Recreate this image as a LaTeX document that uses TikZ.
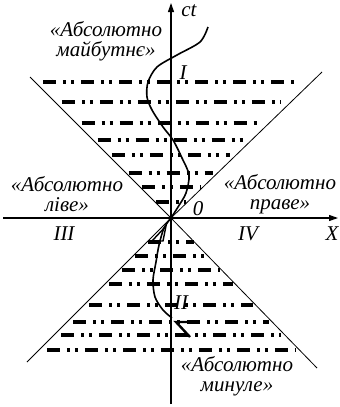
\documentclass[tikz,border=0pt]{standalone}
\usepackage{fontspec}
\setmainfont{Liberation Serif}
\usetikzlibrary{arrows.meta,positioning}

\begin{document}
\begin{tikzpicture}[
    x=1pt, y=-1pt,
    axis/.style={line width=1.1pt, -{Triangle[length=9pt,width=6pt]}},
    cone/.style={line width=0.8pt},
    hatch/.style={line width=3.2pt,
                  dash pattern=on 13pt off 7pt on 3pt off 5pt on 3pt off 7pt},
    lbl/.style={font=\fontsize{21}{20}\selectfont\itshape, align=center,
                inner sep=0pt},
    world/.style={line width=1.6pt}
  ]
    \useasboundingbox (0,0) rectangle (340,407);
    \coordinate (O) at (171,218);

    % Hatching inside the cone
    \foreach \y in {82,102,123,140,155,173,187,202,242,256,270,284,305,322,335,350}
      \draw[hatch] ({171-0.94*abs(218-\y)},\y) -- ({171+0.94*abs(218-\y)},\y);

    % Light cone
    \coordinate (ul) at (30,77);
    \coordinate (ur) at (322,72);
    \coordinate (ll) at (27,362);
    \coordinate (lr) at (317,368);
    \draw[cone] (ul) -- (O) -- (lr);
    \draw[cone] (ur) -- (O) -- (ll);

    % Axes
    \coordinate (xl) at (3,218);
    \coordinate (xr) at (338,218);
    \coordinate (tb) at (171,404);
    \coordinate (tt) at (171,3);
    \draw[axis] (xl) -- (xr);
    \draw[axis] (tb) -- (tt);

    % World line
    \draw[world] plot[smooth] coordinates {(208,27) (200,42) (177,55) (157,67)
      (148,82) (147,97) (152,110) (163,127) (173,140) (182,158) (189,175)
      (186,193) (178,207) (171,218)};
    \draw[world] plot[smooth] coordinates {(171,218) (164,228) (159,245)
      (156,262) (153,280) (155,297) (163,310) (172,318)};
    \draw[line width=2.4pt] (187,322) -- (176,322) -- (190,337);
    \draw[line width=1.4pt] (152,241) -- (166,226) -- (163,241) -- cycle;

    % Labels
    \node[lbl] (ct) at (189,11) {ct};
    \node[lbl] (xa) at (332,234) {X};
    \node[lbl] (zero) at (198,209) {0};
    \node[lbl] (r1) at (183,73) {I};
    \node[lbl] (r2) at (181,303) {II};
    \node[lbl] (r3) at (64,234) {III};
    \node[lbl] (r4) at (248,234) {IV};
    \node[lbl] (fut) at (106,41) {«Абсолютно\\майбутнє»};
    \node[lbl] (lft) at (67,194) {«Абсолютно\\ліве»};
    \node[lbl] (rgt) at (280,194) {«Абсолютно\\праве»};
    \node[lbl] (pst) at (237,376) {«Абсолютно\\минуле»};
  \end{tikzpicture}
\end{document}
